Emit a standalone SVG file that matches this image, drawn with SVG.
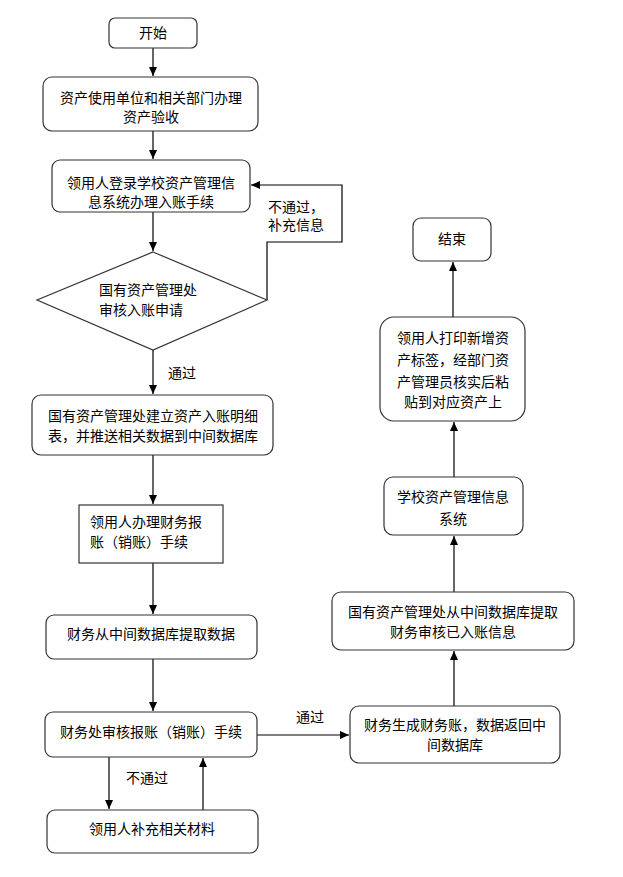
<svg xmlns="http://www.w3.org/2000/svg" width="623" height="877" viewBox="0 0 623 877">
<style>
.n{fill:#fff;stroke:#333;stroke-width:1.2}
.t{font-family:"Liberation Sans","Noto Sans CJK SC",sans-serif;font-size:14px;fill:#000;text-anchor:middle;dominant-baseline:central}
.l{text-anchor:start}
.c{fill:none;stroke:#000;stroke-width:1.2}
</style>
<defs>
<marker id="a" markerWidth="10" markerHeight="10" refX="9" refY="4" orient="auto" markerUnits="userSpaceOnUse">
<path d="M0,0 L9,4 L0,8 Z" fill="#000"/>
</marker>
</defs>
<rect width="623" height="877" fill="#fff"/>
<g id="connectors">
<line class="c" x1="153" y1="48" x2="153" y2="76" marker-end="url(#a)"/>
<line class="c" x1="153" y1="131" x2="153" y2="159" marker-end="url(#a)"/>
<line class="c" x1="153" y1="212" x2="153" y2="251" marker-end="url(#a)"/>
<polyline class="c" points="267,300 267,242 342,242 342,185 251,185" marker-end="url(#a)"/>
<line class="c" x1="153" y1="350" x2="153" y2="394" marker-end="url(#a)"/>
<line class="c" x1="153" y1="455" x2="153" y2="504" marker-end="url(#a)"/>
<line class="c" x1="153" y1="563" x2="153" y2="614" marker-end="url(#a)"/>
<line class="c" x1="153" y1="659" x2="153" y2="711" marker-end="url(#a)"/>
<line class="c" x1="109" y1="757" x2="109" y2="809" marker-end="url(#a)"/>
<line class="c" x1="203" y1="810" x2="203" y2="758" marker-end="url(#a)"/>
<line class="c" x1="257" y1="735" x2="349" y2="735" marker-end="url(#a)"/>
<line class="c" x1="454" y1="706" x2="454" y2="651" marker-end="url(#a)"/>
<line class="c" x1="454" y1="592" x2="454" y2="536" marker-end="url(#a)"/>
<line class="c" x1="454" y1="477" x2="454" y2="422" marker-end="url(#a)"/>
<line class="c" x1="453" y1="317" x2="453" y2="262" marker-end="url(#a)"/>
<text class="t l" x="268" y="207">不通过，</text>
<text class="t l" x="268" y="225">补充信息</text>
<text class="t l" x="168" y="373">通过</text>
<text class="t l" x="126" y="778">不通过</text>
<text class="t l" x="296" y="717">通过</text>
</g>
<g id="start">
<rect class="n" x="109" y="18" width="88" height="30" rx="6"/>
<text class="t" x="153" y="33">开始</text>
</g>
<g id="n1">
<rect class="n" x="43" y="77" width="215" height="54" rx="9"/>
<text class="t" x="151" y="98">资产使用单位和相关部门办理</text>
<text class="t" x="151" y="117">资产验收</text>
</g>
<g id="n2">
<rect class="n" x="52" y="160" width="198" height="52" rx="8"/>
<text class="t" x="151" y="183">领用人登录学校资产管理信</text>
<text class="t" x="151" y="202">息系统办理入账手续</text>
</g>
<g id="d1">
<polygon class="n" points="153,252 267,300 153,350 37,300"/>
<text class="t l" x="99" y="290">国有资产管理处</text>
<text class="t l" x="99" y="310">审核入账申请</text>
</g>
<g id="n3">
<rect class="n" x="32" y="395" width="241" height="60" rx="9"/>
<text class="t" x="153" y="416">国有资产管理处建立资产入账明细</text>
<text class="t" x="153" y="436">表，并推送相关数据到中间数据库</text>
</g>
<g id="n4">
<rect class="n" x="79" y="505" width="144" height="58"/>
<text class="t l" x="90" y="522">领用人办理财务报</text>
<text class="t l" x="90" y="542">账（销账）手续</text>
</g>
<g id="n5">
<rect class="n" x="46" y="615" width="211" height="44" rx="8"/>
<text class="t" x="151" y="634">财务从中间数据库提取数据</text>
</g>
<g id="n6">
<rect class="n" x="45" y="712" width="212" height="45" rx="8"/>
<text class="t" x="151" y="732">财务处审核报账（销账）手续</text>
</g>
<g id="n7">
<rect class="n" x="47" y="810" width="211" height="43" rx="8"/>
<text class="t" x="152" y="829">领用人补充相关材料</text>
</g>
<g id="n8">
<rect class="n" x="350" y="706" width="210" height="57" rx="9"/>
<text class="t" x="455" y="725">财务生成财务账，数据返回中</text>
<text class="t" x="455" y="745">间数据库</text>
</g>
<g id="n9">
<rect class="n" x="332" y="592" width="242" height="58" rx="9"/>
<text class="t" x="453" y="612">国有资产管理处从中间数据库提取</text>
<text class="t" x="453" y="632">财务审核已入账信息</text>
</g>
<g id="n10">
<rect class="n" x="384" y="477" width="139" height="58" rx="9"/>
<text class="t" x="453" y="497">学校资产管理信息</text>
<text class="t" x="453" y="519">系统</text>
</g>
<g id="n11">
<rect class="n" x="380" y="317" width="145" height="104" rx="14"/>
<text class="t" x="453" y="338">领用人打印新增资</text>
<text class="t" x="453" y="360">产标签，经部门资</text>
<text class="t" x="453" y="382">产管理员核实后粘</text>
<text class="t" x="453" y="402">贴到对应资产上</text>
</g>
<g id="end">
<rect class="n" x="413" y="218" width="78" height="43" rx="8"/>
<text class="t" x="452" y="239">结束</text>
</g>
</svg>
